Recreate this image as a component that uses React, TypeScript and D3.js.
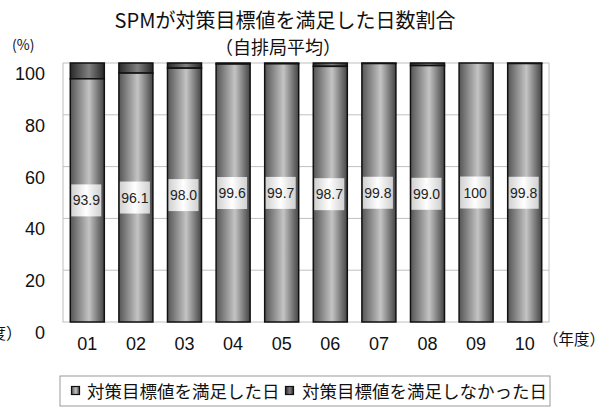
import React from "react";
import * as d3 from "d3";

const categories = ["01", "02", "03", "04", "05", "06", "07", "08", "09", "10"];
const metValues = [93.9, 96.1, 98.0, 99.6, 99.7, 98.7, 99.8, 99.0, 100, 99.8];
const valueLabels = ["93.9", "96.1", "98.0", "99.6", "99.7", "98.7", "99.8", "99.0", "100", "99.8"];
const yTicks = [0, 20, 40, 60, 80, 100];
const seriesNames = ["対策目標値を満足した日", "対策目標値を満足しなかった日"];

const W = 608, H = 408;
const left = 63, right = 549, top = 63, bottom = 322;
const FONT = "'Liberation Sans', 'Noto Sans CJK JP', sans-serif";
const JFONT = "'Noto Sans CJK JP', 'Liberation Sans', sans-serif";

export default function App() {
  const x = d3.scaleBand<string>().domain(categories).range([left, right]).paddingInner(0.3).paddingOuter(0.15);
  const y = d3.scaleLinear().domain([0, 100]).range([bottom, top]);
  const bw = x.bandwidth();
  return (
    <svg width={W} height={H} style={{ position: "absolute", left: 0, top: 0, background: "#fff" }}>
      <defs>
        <linearGradient id="gMet" x1="0" x2="1" y1="0" y2="0">
          <stop offset="0" stopColor="#555" />
          <stop offset="0.55" stopColor="#c4c4c4" />
          <stop offset="1" stopColor="#444" />
        </linearGradient>
        <linearGradient id="gNot" x1="0" x2="1" y1="0" y2="0">
          <stop offset="0" stopColor="#2a2a2a" />
          <stop offset="0.55" stopColor="#808080" />
          <stop offset="1" stopColor="#262626" />
        </linearGradient>
        <linearGradient id="gLab" x1="0" x2="1" y1="0" y2="0">
          <stop offset="0" stopColor="#d0d0d0" />
          <stop offset="0.5" stopColor="#ffffff" />
          <stop offset="1" stopColor="#d0d0d0" />
        </linearGradient>
      </defs>
      <text x={285} y={28} textAnchor="middle" fontFamily={JFONT} fontSize={20} fill="#111">SPMが対策目標値を満足した日数割合</text>
      <text x={278} y={54} textAnchor="middle" fontFamily={JFONT} fontSize={18} fill="#111">（自排局平均）</text>
      <text x={12} y={50} fontFamily={JFONT} fontSize={14} fill="#111">(%)</text>
      {yTicks.map((t) => (
        <g key={t}>
          {t > 0 && t < 100 && <line x1={left} x2={right} y1={y(t)} y2={y(t)} stroke="#c0c0c0" strokeWidth={1} />}
          <text x={45} y={y(t) + 17} textAnchor="end" fontFamily={FONT} fontSize={18} fill="#111">{t}</text>
        </g>
      ))}
      <rect x={left} y={top} width={right - left} height={bottom - top} fill="none" stroke="#c0c0c0" strokeWidth={1} />
      {categories.map((c, i) => {
        const x0 = x(c)!;
        const v = metValues[i];
        return (
          <g key={c}>
            <rect x={x0} y={y(100)} width={bw} height={y(v) - y(100)} fill="url(#gNot)" stroke="#111" strokeWidth={1.5} />
            <rect x={x0} y={y(v)} width={bw} height={y(0) - y(v)} fill="url(#gMet)" stroke="#111" strokeWidth={1.5} />
            <rect x={x0 + 1} y={y(v / 2) - 16} width={bw - 4} height={32} fill="url(#gLab)" />
            <text x={x0 + bw / 2 - 1} y={y(v / 2) + 5} textAnchor="middle" fontFamily={FONT} fontSize={14} fill="#222">{valueLabels[i]}</text>
            <text x={x0 + bw / 2} y={350} textAnchor="middle" fontFamily={FONT} fontSize={18} fill="#111">{c}</text>
          </g>
        );
      })}
      <text x={543} y={345} fontFamily={JFONT} fontSize={15.5} fill="#111">（年度）</text>
      <text x={22} y={339} textAnchor="end" fontFamily={JFONT} fontSize={16} fill="#111">（年度）</text>
      <rect x={60} y={376} width={490} height={30} fill="#fff" stroke="#999" strokeWidth={1} />
      <rect x={71.5} y={386.5} width={8} height={8} fill="url(#gMet)" stroke="#111" strokeWidth={1.2} />
      <text x={87} y={398} fontFamily={JFONT} fontSize={17.5} fill="#111">{seriesNames[0]}</text>
      <rect x={285.5} y={386.5} width={8} height={8} fill="url(#gNot)" stroke="#111" strokeWidth={1.2} />
      <text x={302} y={398} fontFamily={JFONT} fontSize={17.5} fill="#111">{seriesNames[1]}</text>
    </svg>
  );
}
